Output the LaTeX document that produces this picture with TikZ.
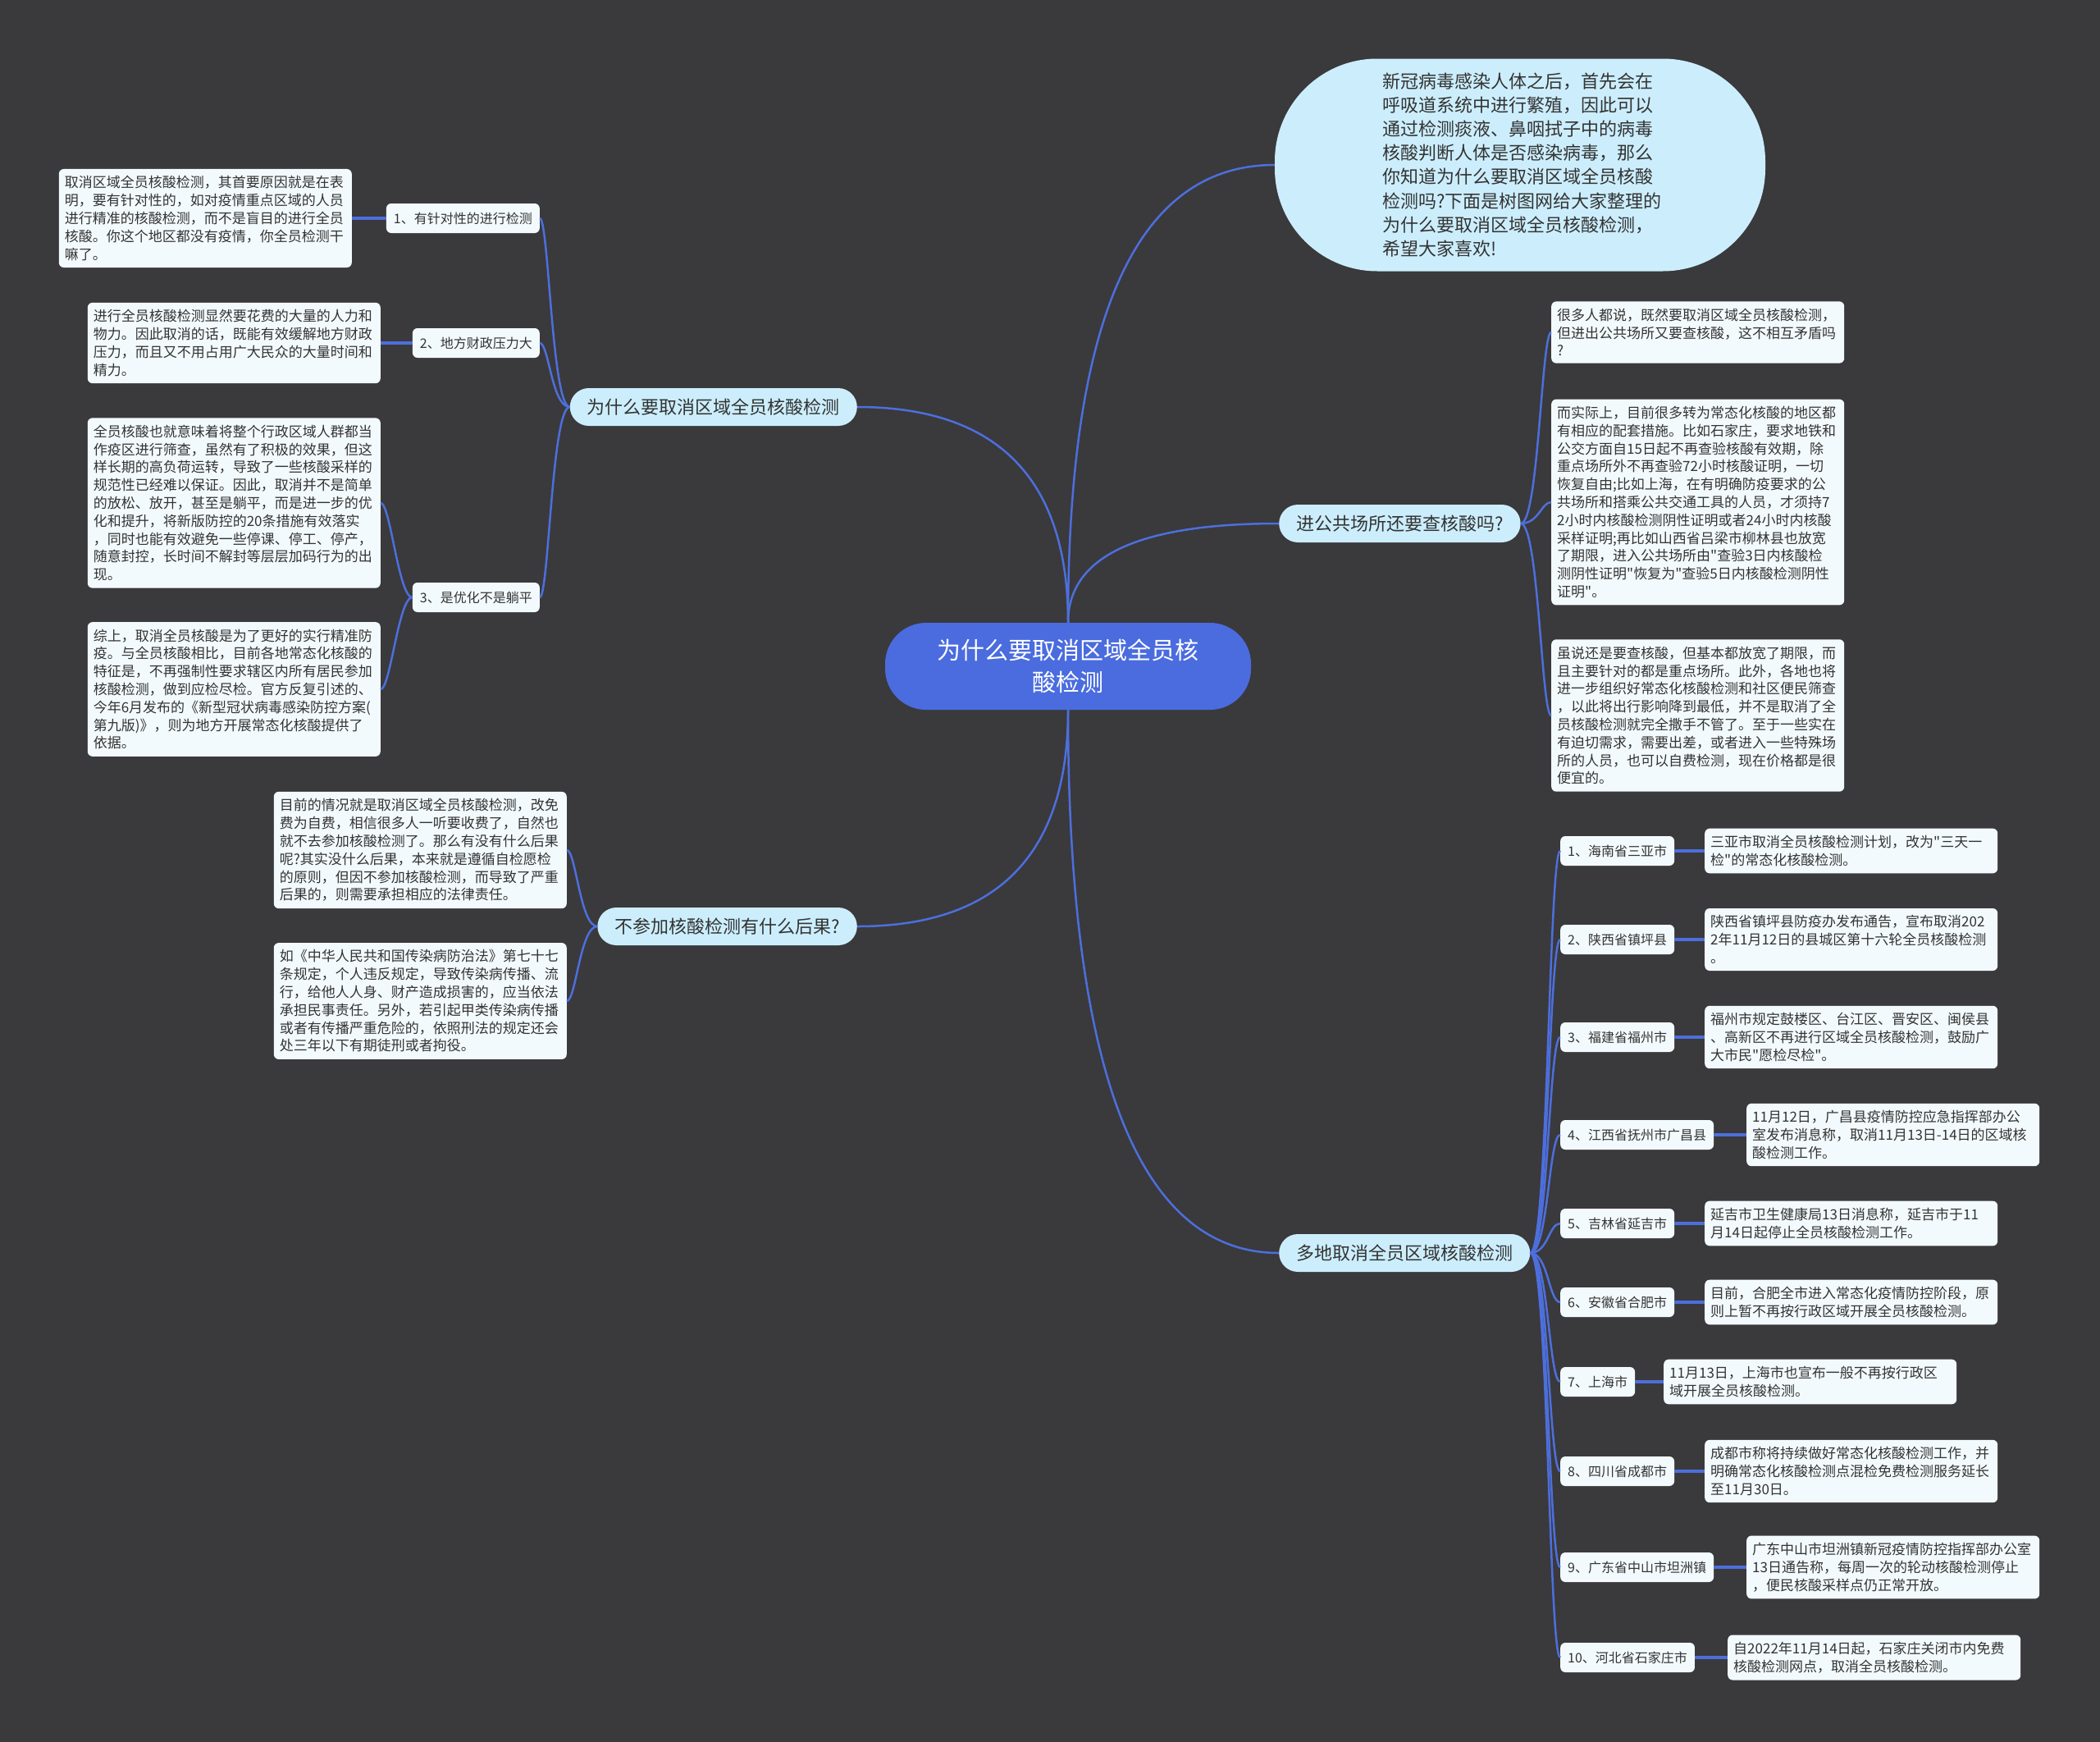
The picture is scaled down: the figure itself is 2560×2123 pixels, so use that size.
\documentclass[tikz,border=0pt]{standalone}
\usepackage{fontspec}
\setmainfont{Noto Sans CJK SC}[Ligatures=TeXOff]
\usetikzlibrary{positioning}
\definecolor{bg}{HTML}{3A393C}
\definecolor{lnk}{HTML}{4D6FDC}
\definecolor{ctr}{HTML}{4A6CDE}
\definecolor{lone}{HTML}{CCEEFC}
\definecolor{leafc}{HTML}{F3FAFD}
\definecolor{txt}{HTML}{333333}
\begin{document}
\begin{tikzpicture}[x=1pt,y=-1pt,
  leafbox/.style={fill=leafc, rounded corners=6pt, text=txt, font=\fontsize{17}{21.8}\selectfont, align=left, text width=343pt, inner xsep=7pt, inner ysep=8.5pt},
  lvtwo/.style={fill=leafc, rounded corners=6pt, text=txt, font=\fontsize{16}{19}\selectfont, inner xsep=9pt, inner ysep=0pt, minimum height=36pt},
  lvone/.style={fill=lone, rounded corners=23pt, text=txt, font=\fontsize{22}{26}\selectfont, inner xsep=21pt, inner ysep=0pt, minimum height=46pt},
  conn/.style={draw=lnk, line width=2.5pt},
  lconn/.style={draw=lnk, line width=4pt}
]
\fill[bg] (0,0) rectangle (2560,2123);
\useasboundingbox (0,0) rectangle (2560,2123);

% center
\node[fill=ctr, rounded corners=50pt, minimum width=446pt, minimum height=106pt, text=white, font=\fontsize{29}{39}\selectfont, align=center] (c) at (1302,812) {为什么要取消区域全员核\\酸检测};

% top bubble
\node[fill=lone, rounded corners=125pt, minimum width=598pt, minimum height=259pt, text=txt, font=\fontsize{22}{29.2}\selectfont, align=left, text width=336pt, inner sep=0pt] (bub) at (1853,201) {新冠病毒感染人体之后，首先会在\\呼吸道系统中进行繁殖，因此可以\\通过检测痰液、鼻咽拭子中的病毒\\核酸判断人体是否感染病毒，那么\\你知道为什么要取消区域全员核酸\\检测吗?下面是树图网给大家整理的\\为什么要取消区域全员核酸检测，\\希望大家喜欢!};

% level one
\node[lvone, anchor=east] (w) at (1045,496) {为什么要取消区域全员核酸检测};
\node[lvone, anchor=east] (q) at (1045,1129) {不参加核酸检测有什么后果?};
\node[lvone, anchor=west] (p) at (1559,638) {进公共场所还要查核酸吗?};
\node[lvone, anchor=west] (m) at (1559,1527) {多地取消全员区域核酸检测};

% left group
\node[lvtwo, anchor=east] (a1) at (658,266) {1、有针对性的进行检测};
\node[lvtwo, anchor=east] (a2) at (658,418) {2、地方财政压力大};
\node[lvtwo, anchor=east] (a3) at (658,728) {3、是优化不是躺平};

\node[leafbox, anchor=east] (l1) at (429,266) {取消区域全员核酸检测，其首要原因就是在表\\明，要有针对性的，如对疫情重点区域的人员\\进行精准的核酸检测，而不是盲目的进行全员\\核酸。你这个地区都没有疫情，你全员检测干\\嘛了。};
\node[leafbox, anchor=east] (l2) at (464,418) {进行全员核酸检测显然要花费的大量的人力和\\物力。因此取消的话，既能有效缓解地方财政\\压力，而且又不用占用广大民众的大量时间和\\精力。};
\node[leafbox, anchor=east] (l3a) at (464,613) {全员核酸也就意味着将整个行政区域人群都当\\作疫区进行筛查，虽然有了积极的效果，但这\\样长期的高负荷运转，导致了一些核酸采样的\\规范性已经难以保证。因此，取消并不是简单\\的放松、放开，甚至是躺平，而是进一步的优\\化和提升，将新版防控的20条措施有效落实\\，同时也能有效避免一些停课、停工、停产，\\随意封控，长时间不解封等层层加码行为的出\\现。};
\node[leafbox, anchor=east] (l3b) at (464,840) {综上，取消全员核酸是为了更好的实行精准防\\疫。与全员核酸相比，目前各地常态化核酸的\\特征是，不再强制性要求辖区内所有居民参加\\核酸检测，做到应检尽检。官方反复引述的、\\今年6月发布的《新型冠状病毒感染防控方案(\\第九版)》，则为地方开展常态化核酸提供了\\依据。};

% consequences
\node[leafbox, anchor=east] (n1) at (691,1036) {目前的情况就是取消区域全员核酸检测，改免\\费为自费，相信很多人一听要收费了，自然也\\就不去参加核酸检测了。那么有没有什么后果\\呢?其实没什么后果，本来就是遵循自检愿检\\的原则，但因不参加核酸检测，而导致了严重\\后果的，则需要承担相应的法律责任。};
\node[leafbox, anchor=east] (n2) at (691,1220) {如《中华人民共和国传染病防治法》第七十七\\条规定，个人违反规定，导致传染病传播、流\\行，给他人人身、财产造成损害的，应当依法\\承担民事责任。另外，若引起甲类传染病传播\\或者有传播严重危险的，依照刑法的规定还会\\处三年以下有期徒刑或者拘役。};

% public places
\node[leafbox, anchor=west] (p1) at (1891,405) {很多人都说，既然要取消区域全员核酸检测，\\但进出公共场所又要查核酸，这不相互矛盾吗\\?};
\node[leafbox, anchor=west] (p2) at (1891,612) {而实际上，目前很多转为常态化核酸的地区都\\有相应的配套措施。比如石家庄，要求地铁和\\公交方面自15日起不再查验核酸有效期，除\\重点场所外不再查验72小时核酸证明，一切\\恢复自由;比如上海，在有明确防疫要求的公\\共场所和搭乘公共交通工具的人员，才须持7\\2小时内核酸检测阴性证明或者24小时内核酸\\采样证明;再比如山西省吕梁市柳林县也放宽\\了期限，进入公共场所由"查验3日内核酸检\\测阴性证明"恢复为"查验5日内核酸检测阴性\\证明"。};
\node[leafbox, anchor=west] (p3) at (1891,872) {虽说还是要查核酸，但基本都放宽了期限，而\\且主要针对的都是重点场所。此外，各地也将\\进一步组织好常态化核酸检测和社区便民筛查\\，以此将出行影响降到最低，并不是取消了全\\员核酸检测就完全撒手不管了。至于一些实在\\有迫切需求，需要出差，或者进入一些特殊场\\所的人员，也可以自费检测，现在价格都是很\\便宜的。};

% places list
\node[lvtwo, anchor=west] (r1) at (1902,1037) {1、海南省三亚市};
\node[lvtwo, anchor=west] (r2) at (1902,1145) {2、陕西省镇坪县};
\node[lvtwo, anchor=west] (r3) at (1902,1264) {3、福建省福州市};
\node[lvtwo, anchor=west] (r4) at (1902,1383) {4、江西省抚州市广昌县};
\node[lvtwo, anchor=west] (r5) at (1902,1491) {5、吉林省延吉市};
\node[lvtwo, anchor=west] (r6) at (1902,1587) {6、安徽省合肥市};
\node[lvtwo, anchor=west] (r7) at (1902,1684) {7、上海市};
\node[lvtwo, anchor=west] (r8) at (1902,1793) {8、四川省成都市};
\node[lvtwo, anchor=west] (r9) at (1902,1910) {9、广东省中山市坦洲镇};
\node[lvtwo, anchor=west] (r10) at (1902,2020) {10、河北省石家庄市};

\node[leafbox, anchor=west] (s1) at (2078,1037) {三亚市取消全员核酸检测计划，改为"三天一\\检"的常态化核酸检测。};
\node[leafbox, anchor=west] (s2) at (2078,1145) {陕西省镇坪县防疫办发布通告，宣布取消202\\2年11月12日的县城区第十六轮全员核酸检测\\。};
\node[leafbox, anchor=west] (s3) at (2078,1264) {福州市规定鼓楼区、台江区、晋安区、闽侯县\\、高新区不再进行区域全员核酸检测，鼓励广\\大市民"愿检尽检"。};
\node[leafbox, anchor=west] (s4) at (2129,1383) {11月12日，广昌县疫情防控应急指挥部办公\\室发布消息称，取消11月13日-14日的区域核\\酸检测工作。};
\node[leafbox, anchor=west] (s5) at (2078,1491) {延吉市卫生健康局13日消息称，延吉市于11\\月14日起停止全员核酸检测工作。};
\node[leafbox, anchor=west] (s6) at (2078,1587) {目前，合肥全市进入常态化疫情防控阶段，原\\则上暂不再按行政区域开展全员核酸检测。};
\node[leafbox, anchor=west] (s7) at (2028,1684) {11月13日，上海市也宣布一般不再按行政区\\域开展全员核酸检测。};
\node[leafbox, anchor=west] (s8) at (2078,1793) {成都市称将持续做好常态化核酸检测工作，并\\明确常态化核酸检测点混检免费检测服务延长\\至11月30日。};
\node[leafbox, anchor=west] (s9) at (2129,1910) {广东中山市坦洲镇新冠疫情防控指挥部办公室\\13日通告称，每周一次的轮动核酸检测停止\\，便民核酸采样点仍正常开放。};
\node[leafbox, anchor=west] (s10) at (2106,2020) {自2022年11月14日起，石家庄关闭市内免费\\核酸检测网点，取消全员核酸检测。};

% main connectors
\draw[conn] (c.north) .. controls +(0,-373) and +(-168,0) .. (bub.west);
\draw[conn] (c.north) .. controls +(0,-175) and +(171,0) .. (w.east);
\draw[conn] (c.north) .. controls +(0,-81) and +(-171,0) .. (p.west);
\draw[conn] (c.south) .. controls +(0,176) and +(171,0) .. (q.east);
\draw[conn] (c.south) .. controls +(0,441) and +(-171,0) .. (m.west);

% left group connectors
\foreach \n in {a1,a2,a3}
  \draw[conn] (w.west) .. controls +(-22,0) and +(11,0) .. (\n.east);
\draw[lconn] (a1.west) -- (l1.east);
\draw[lconn] (a2.west) -- (l2.east);
\foreach \n in {l3a,l3b}
  \draw[conn] (a3.west) .. controls +(-17,0) and +(12,0) .. (\n.east);

% consequences connectors
\foreach \n in {n1,n2}
  \draw[conn] (q.west) .. controls +(-21,0) and +(11,0) .. (\n.east);

% public places connectors
\foreach \n in {p1,p2,p3}
  \draw[conn] (p.east) .. controls +(22,0) and +(-12,0) .. (\n.west);

% places list connectors
\foreach \i in {1,...,10} {
  \draw[conn] (m.east) .. controls +(22,0) and +(-14,0) .. (r\i.west);
  \draw[lconn] (r\i.east) -- (s\i.west);
}
\end{tikzpicture}
\end{document}
